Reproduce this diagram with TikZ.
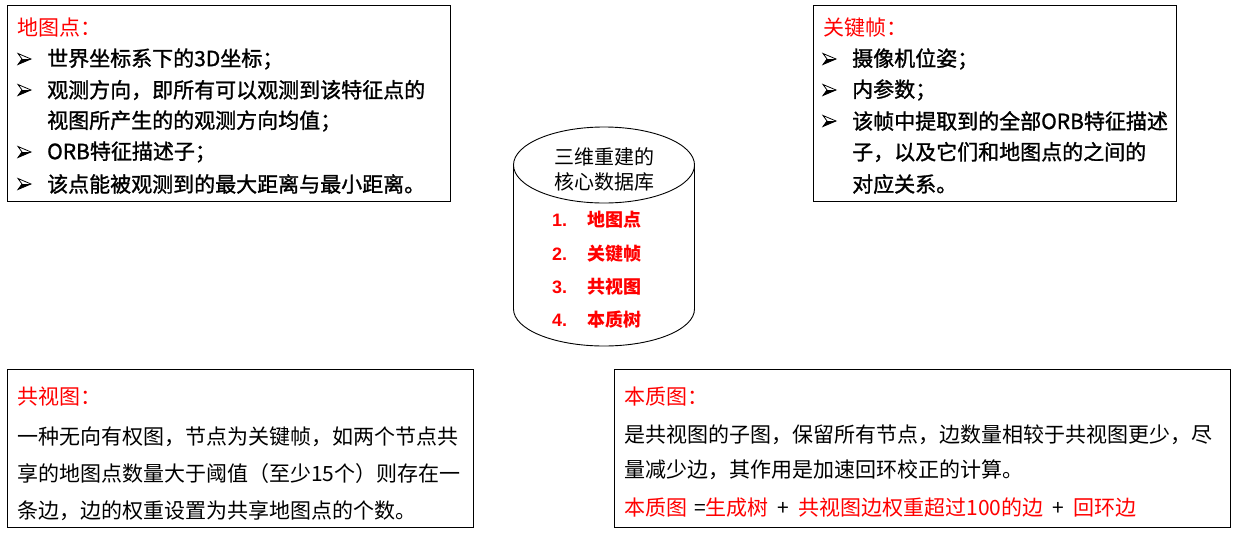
\documentclass[tikz,border=0pt]{standalone}
\usepackage{fontspec}
\setmainfont{Liberation Sans}
\newfontfamily\cjk{Noto Sans CJK SC}
\newfontfamily\cjkh{Noto Sans CJK SC}[FakeBold=1.3]
\definecolor{hred}{RGB}{255,0,0}
\begin{document}
\begin{tikzpicture}[x=1pt,y=-1pt,
  box/.style={draw=black, line width=0.9pt, anchor=north west, inner sep=0pt},
  tl/.style={anchor=west, inner sep=0pt, font=\cjkh\fontsize{21}{25}\selectfont},
  tlt/.style={anchor=west, inner sep=0pt, text=hred, font=\cjk\fontsize{21}{25}\selectfont},
  tlb/.style={anchor=west, inner sep=0pt, font=\cjk\fontsize{21}{25}\selectfont},
  tlc/.style={anchor=west, inner sep=0pt, font=\cjk\fontsize{21}{25}\selectfont},
  cyl/.style={draw=black, line width=0.9pt},
  ctxt/.style={anchor=center, inner sep=0pt, font=\cjk\fontsize{20}{24}\selectfont},
  num/.style={anchor=west, inner sep=0pt, text=hred, font=\bfseries\fontsize{18}{22}\selectfont},
  item/.style={anchor=west, inner sep=0pt, text=hred, font=\cjk\bfseries\fontsize{18}{22}\selectfont},
  bulpic/.pic={
    \draw[line width=0.8pt, line join=miter, fill=white] (0,-5.5) -- (13,0) -- (0,5.5) -- (4,0) -- cycle;
    \fill (4,0) -- (13,0) -- (0,5.5) -- cycle;
  }
]
\useasboundingbox (0,0) rectangle (1236,536);

% box 1
\node[box, minimum width=443pt, minimum height=196pt] (b1) at (7,5) {};
\node[tlt] (b1t) at (17,28) {地图点：};
\pic at (18,59) {bulpic};
\node[tl] (b1at) at (47,59) {世界坐标系下的3D坐标；};
\pic at (18,90) {bulpic};
\node[tl] (b1bt) at (47,90) {观测方向，即所有可以观测到该特征点的};
\node[tl] (b1bt2) at (47,121) {视图所产生的的观测方向均值；};
\pic at (18,152) {bulpic};
\node[tl] (b1ct) at (47,152) {ORB特征描述子；};
\pic at (18,184) {bulpic};
\node[tl] (b1dt) at (47,184) {该点能被观测到的最大距离与最小距离。};

% box 2
\node[box, minimum width=363pt, minimum height=196pt] (b2) at (813,5) {};
\node[tlt] (b2t) at (823,28) {关键帧：};
\pic at (823,59) {bulpic};
\node[tl] (b2at) at (852,59) {摄像机位姿；};
\pic at (823,90) {bulpic};
\node[tl] (b2bt) at (852,90) {内参数；};
\pic at (823,121) {bulpic};
\node[tl] (b2ct) at (852,121) {该帧中提取到的全部ORB特征描述};
\node[tl] (b2ct2) at (852,152) {子，以及它们和地图点的之间的};
\node[tl] (b2ct3) at (852,184) {对应关系。};

% cylinder
\draw[cyl] (604,165) ellipse [x radius=90.5, y radius=38];
\draw[cyl] (513.5,165) -- (513.5,309) arc[start angle=180, end angle=360, x radius=90.5, y radius=-37] -- (694.5,165);
\node[ctxt] (c1) at (604,157) {三维重建的};
\node[ctxt] (c2) at (604,182) {核心数据库};
\node[num] (n1) at (552,220) {1.};
\node[item] (i1) at (587,220) {地图点};
\node[num] (n2) at (552,254) {2.};
\node[item] (i2) at (587,254) {关键帧};
\node[num] (n3) at (552,287) {3.};
\node[item] (i3) at (587,287) {共视图};
\node[num] (n4) at (552,320) {4.};
\node[item] (i4) at (587,320) {本质树};

% box 3
\node[box, minimum width=466pt, minimum height=158pt] (b3) at (7,369) {};
\node[tlt] (b3t) at (17,397) {共视图：};
\node[tlb] (b3a) at (17,437) {一种无向有权图，节点为关键帧，如两个节点共};
\node[tlb] (b3b) at (17,474) {享的地图点数量大于阈值（至少15个）则存在一};
\node[tlb] (b3c) at (17,511) {条边，边的权重设置为共享地图点的个数。};

% box 4
\node[box, minimum width=616pt, minimum height=158pt] (b4) at (614,369) {};
\node[tlt] (b4t) at (624,397) {本质图：};
\node[tlc] (b4a) at (624,435) {是共视图的子图，保留所有节点，边数量相较于共视图更少，尽};
\node[tlc] (b4b) at (624,470) {量减少边，其作用是加速回环校正的计算。};
\node[tlc] (b4c) at (624,508) {\textcolor{hred}{本质图}\hspace{7pt}=\textcolor{hred}{生成树}\hspace{9pt}+\hspace{9pt}\textcolor{hred}{共视图边权重超过100的边}\hspace{9pt}+\hspace{9pt}\textcolor{hred}{回环边}};
\end{tikzpicture}
\end{document}
